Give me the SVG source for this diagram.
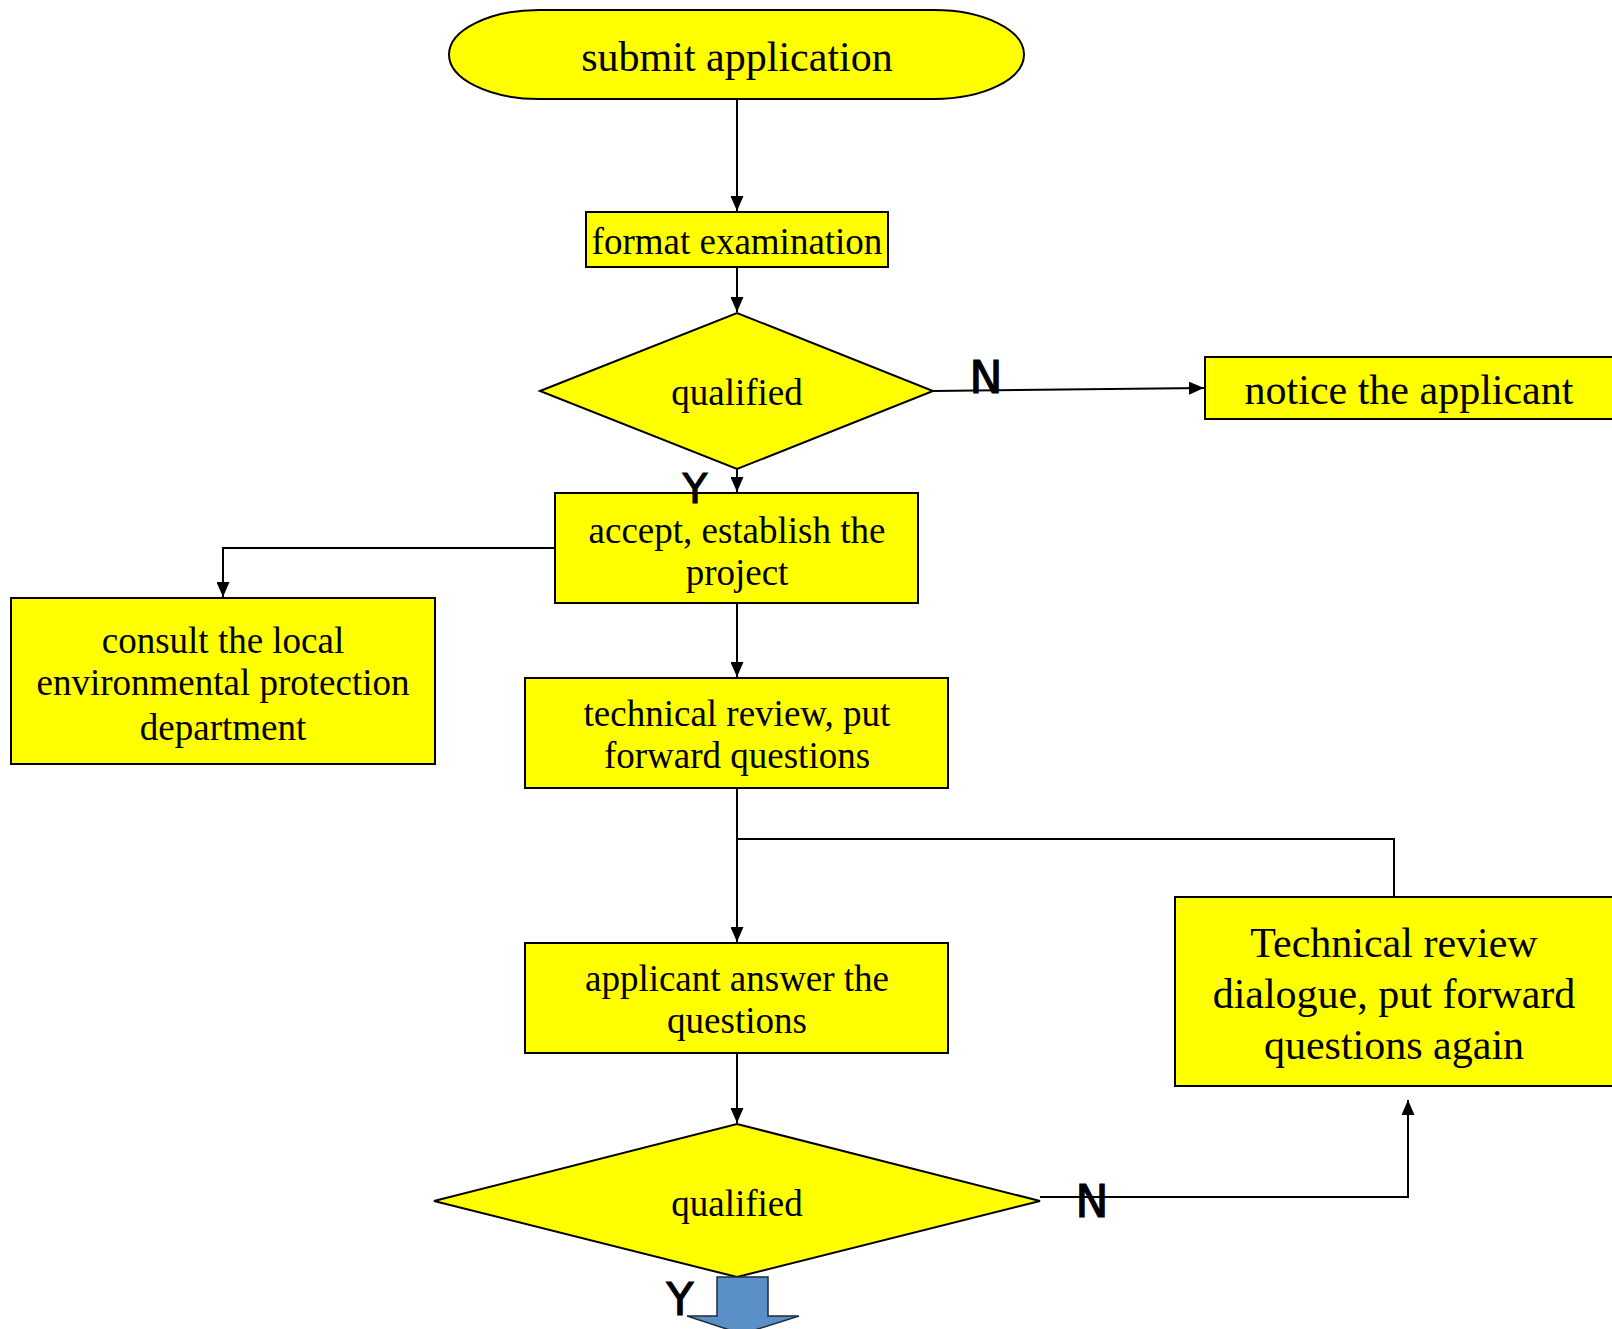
<svg xmlns="http://www.w3.org/2000/svg" width="1612" height="1329" viewBox="0 0 1612 1329">
<style>
.box{fill:#ffff00;stroke:#000;stroke-width:2}
.t{font-family:"Liberation Serif","Times New Roman",serif;font-size:37px;fill:#000;text-anchor:middle}
.big{font-size:42px}
.yn{font-family:"DejaVu Sans",sans-serif;font-size:44px;fill:#000;stroke:#000;stroke-width:1.2;text-anchor:middle}
.c{fill:none;stroke:#000;stroke-width:2}
</style>
<defs>
<marker id="ah" viewBox="0 0 10 10" refX="10" refY="5" markerWidth="15" markerHeight="13" markerUnits="userSpaceOnUse" orient="auto-start-reverse" preserveAspectRatio="none">
<path d="M0,0 L10,5 L0,10 Z" fill="#000"/>
</marker>
</defs>
<rect width="1612" height="1329" fill="#fff"/>
<g id="connectors">
<line class="c" x1="737" y1="99" x2="737" y2="211" marker-end="url(#ah)"/>
<line class="c" x1="737" y1="267" x2="737" y2="312" marker-end="url(#ah)"/>
<line class="c" x1="933" y1="391" x2="1204" y2="388" marker-end="url(#ah)"/>
<line class="c" x1="737" y1="469" x2="737" y2="492" marker-end="url(#ah)"/>
<polyline class="c" points="555,548 223,548 223,597" marker-end="url(#ah)"/>
<line class="c" x1="737" y1="603" x2="737" y2="677" marker-end="url(#ah)"/>
<line class="c" x1="737" y1="788" x2="737" y2="942" marker-end="url(#ah)"/>
<polyline class="c" points="737,839 1394,839 1394,896"/>
<line class="c" x1="737" y1="1053" x2="737" y2="1123" marker-end="url(#ah)"/>
<polyline class="c" points="1040,1197 1408,1197 1408,1100" marker-end="url(#ah)"/>
</g>
<g id="submit">
<rect class="box" x="449" y="10" width="575" height="89" rx="90" ry="44.5"/>
<text class="t" x="737" y="71" style="font-size:42px">submit application</text>
</g>
<g id="format">
<rect class="box" x="586" y="212" width="302" height="55"/>
<text class="t" x="737" y="254">format examination</text>
</g>
<g id="qualified1">
<polygon class="box" points="540,391 737,313 933,391 737,469"/>
<text class="t" x="737" y="405">qualified</text>
</g>
<g id="notice">
<rect class="box" x="1205" y="357" width="420" height="62"/>
<text class="t" x="1409" y="404" style="font-size:42px">notice the applicant</text>
</g>
<g id="accept">
<rect class="box" x="555" y="493" width="363" height="110"/>
<text class="t" x="737" y="543">accept, establish the</text>
<text class="t" x="737" y="585">project</text>
</g>
<g id="consult">
<rect class="box" x="11" y="598" width="424" height="166"/>
<text class="t" x="223" y="653">consult the local</text>
<text class="t" x="223" y="695">environmental protection</text>
<text class="t" x="223" y="740">department</text>
</g>
<g id="technical">
<rect class="box" x="525" y="678" width="423" height="110"/>
<text class="t" x="737" y="726">technical review, put</text>
<text class="t" x="737" y="768">forward questions</text>
</g>
<g id="answer">
<rect class="box" x="525" y="943" width="423" height="110"/>
<text class="t" x="737" y="991">applicant answer the</text>
<text class="t" x="737" y="1033">questions</text>
</g>
<g id="dialogue">
<rect class="box" x="1175" y="897" width="450" height="189"/>
<text class="t big" x="1394" y="957">Technical review</text>
<text class="t big" x="1394" y="1008">dialogue, put forward</text>
<text class="t big" x="1394" y="1059">questions again</text>
</g>
<g id="qualified2">
<polygon class="box" points="434,1201 737,1124 1040,1201 737,1277"/>
<text class="t" x="737" y="1216">qualified</text>
</g>
<g id="labels">
<text class="yn" x="695" y="503" style="font-size:40px">Y</text>
<text class="yn" x="986" y="393">N</text>
<text class="yn" x="1092" y="1217">N</text>
<text class="yn" x="680" y="1315">Y</text>
</g>
<g id="blockarrow">
<polygon points="717,1277 768,1277 768,1316 799,1316 742,1334 687,1316 717,1316" fill="#5b8fc7" stroke="#1f2d3d" stroke-width="1.5"/>
</g>
</svg>
